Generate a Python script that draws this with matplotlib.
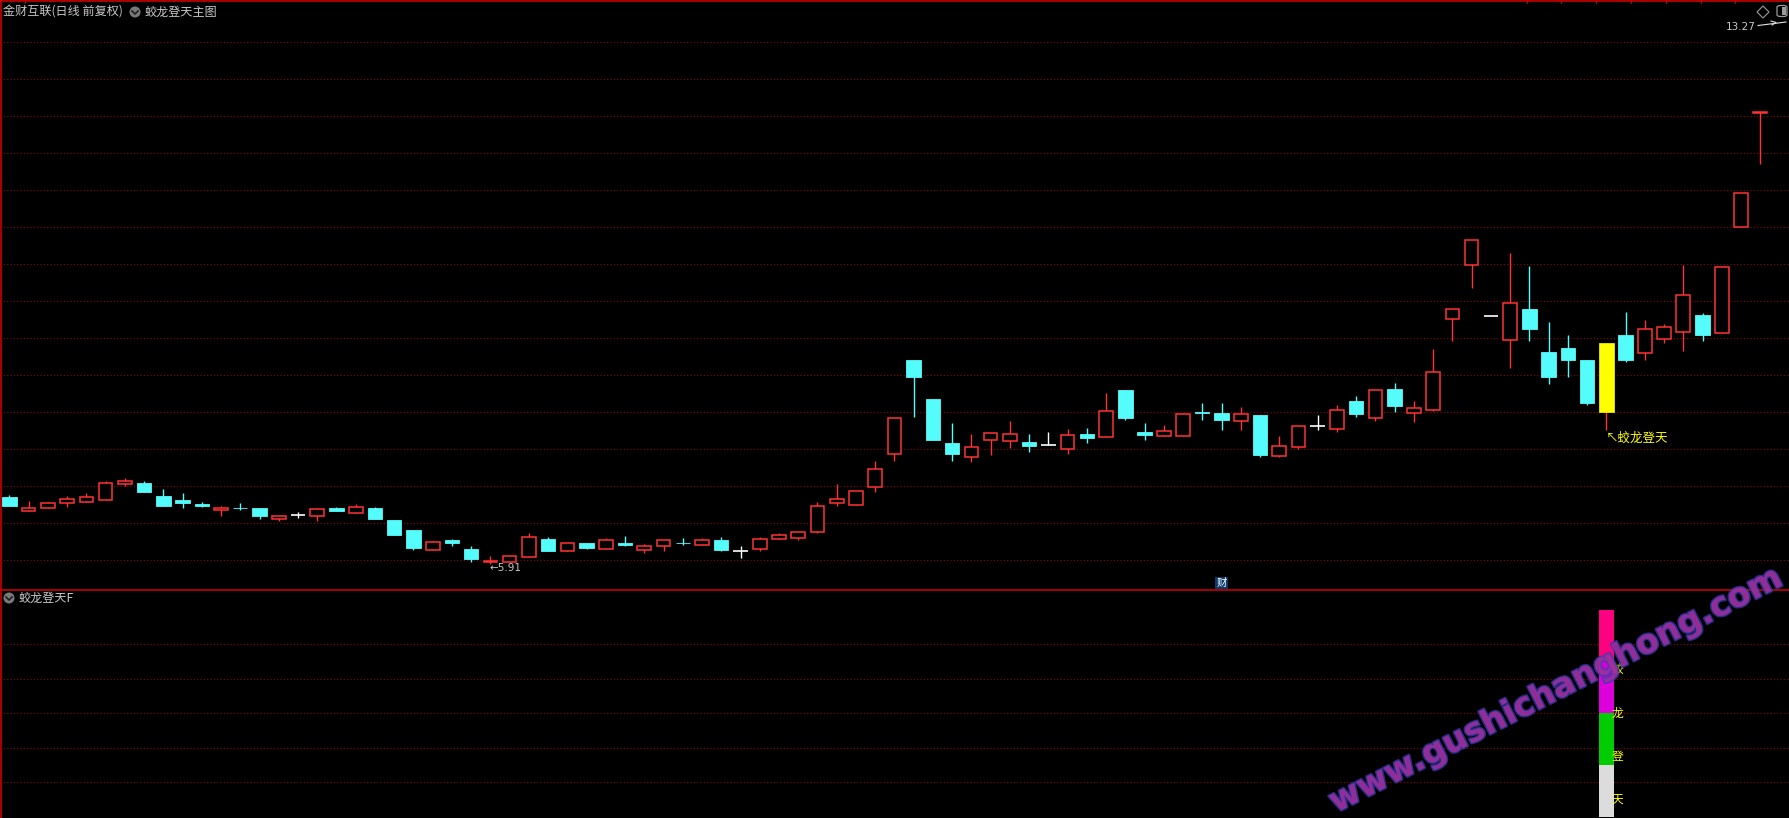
import matplotlib
matplotlib.use('Agg')
import matplotlib.pyplot as plt
import matplotlib.patches as mpatches
import matplotlib.patheffects as pe
from matplotlib.lines import Line2D
import numpy as np

plt.rcParams['font.family'] = ['Noto Sans CJK SC', 'DejaVu Sans']

# 金财互联 日线 前复权, 92 bars
opens = [7.01, 6.77, 6.82, 6.90, 6.93, 6.95, 7.22, 7.23, 7.02, 6.96,
         6.89, 6.80, 6.83, 6.83, 6.64, 6.72, 6.69, 6.83, 6.75, 6.83,
         6.63, 6.47, 6.15, 6.31, 6.16, 5.94, 5.94, 6.03, 6.32, 6.13,
         6.26, 6.16, 6.26, 6.15, 6.20, 6.26, 6.23, 6.31, 6.13, 6.16,
         6.33, 6.34, 6.44, 6.90, 6.88, 7.17, 7.71, 9.24, 8.60, 7.89,
         7.66, 7.94, 7.91, 7.90, 7.86, 7.78, 8.03, 7.98, 8.75, 8.06,
         8.00, 8.00, 8.39, 8.37, 8.25, 8.34, 7.68, 7.82, 8.16, 8.11,
         8.57, 8.30, 8.76, 8.37, 8.43, 9.91, 10.78, 9.95, 9.57, 10.07,
         9.37, 9.44, 9.24, 8.39, 9.64, 9.35, 9.58, 9.70, 9.97, 9.68,
         11.40, 13.26]
highs = [7.04, 6.94, 6.92, 7.02, 7.07, 7.27, 7.32, 7.27, 7.14, 7.07,
         6.92, 6.86, 6.91, 6.83, 6.69, 6.76, 6.83, 6.84, 6.89, 6.84,
         6.63, 6.47, 6.29, 6.32, 6.21, 6.05, 6.06, 6.42, 6.35, 6.25,
         6.26, 6.34, 6.37, 6.24, 6.30, 6.34, 6.34, 6.35, 6.21, 6.35,
         6.42, 6.43, 6.92, 7.22, 7.10, 7.59, 8.29, 9.24, 8.60, 8.21,
         8.03, 8.04, 8.24, 8.03, 8.06, 8.11, 8.13, 8.70, 8.75, 8.21,
         8.18, 8.37, 8.54, 8.54, 8.47, 8.34, 8.00, 8.17, 8.34, 8.50,
         8.65, 8.74, 8.86, 8.57, 9.42, 10.06, 11.19, 9.95, 10.98, 10.77,
         9.86, 9.64, 9.24, 9.51, 10.02, 9.89, 9.82, 10.79, 10.00, 10.75,
         11.95, 13.27]
lows = [6.86, 6.77, 6.82, 6.85, 6.93, 6.95, 7.19, 7.09, 6.86, 6.82,
        6.85, 6.69, 6.80, 6.64, 6.61, 6.66, 6.62, 6.77, 6.75, 6.64,
        6.39, 6.15, 6.15, 6.21, 5.95, 5.91, 5.94, 6.03, 6.13, 6.13,
        6.16, 6.16, 6.21, 6.10, 6.13, 6.23, 6.23, 6.13, 6.02, 6.13,
        6.33, 6.31, 6.42, 6.86, 6.88, 7.09, 7.60, 8.31, 7.94, 7.60,
        7.58, 7.69, 7.81, 7.74, 7.86, 7.71, 7.89, 7.98, 8.26, 7.94,
        8.00, 8.00, 8.26, 8.09, 8.10, 7.66, 7.66, 7.79, 8.10, 8.07,
        8.31, 8.25, 8.39, 8.22, 8.40, 9.55, 10.41, 9.95, 9.11, 9.55,
        8.85, 8.96, 8.51, 8.09, 9.21, 9.24, 9.52, 9.39, 9.55, 9.68,
        11.40, 12.43]
closes = [6.86, 6.82, 6.91, 6.97, 7.01, 7.23, 7.27, 7.09, 6.86, 6.91,
          6.86, 6.82, 6.82, 6.69, 6.69, 6.72, 6.81, 6.77, 6.85, 6.64,
          6.39, 6.18, 6.27, 6.26, 6.00, 5.96, 6.04, 6.35, 6.13, 6.25,
          6.18, 6.30, 6.23, 6.20, 6.30, 6.25, 6.30, 6.14, 6.13, 6.33,
          6.38, 6.43, 6.86, 6.97, 7.10, 7.46, 8.29, 8.96, 7.94, 7.71,
          7.82, 8.04, 8.03, 7.84, 7.86, 8.01, 7.97, 8.40, 8.30, 8.02,
          8.08, 8.35, 8.38, 8.26, 8.35, 7.69, 7.83, 8.17, 8.16, 8.43,
          8.36, 8.74, 8.49, 8.45, 9.04, 10.06, 11.19, 9.95, 10.16, 9.74,
          8.96, 9.24, 8.54, 9.51, 9.24, 9.74, 9.77, 10.29, 9.65, 10.75,
          11.95, 13.27]

# 蛟龙登天 signal
signal_idx = 83
signal_seg = [1, 1, 1, 1]
signal_colors = ['#dcdcdc', '#00cc00', '#dd00dd', '#ff0080']
signal_words = ['天', '登', '龙', '蛟']
word_levels = [0.34, 1.17, 2.0, 2.85]
report_idx = 63   # 财 marker

RED = '#ff3232'
CYAN = '#54fcfc'
BORDER = '#c80000'
GRID = '#a00000'
W, H = 1789, 818

fig = plt.figure(figsize=(W / 100, H / 100), dpi=100, facecolor='black')

def fx(px):
    return px / W

def fy(py):
    return 1 - py / H

ax = fig.add_axes([0, fy(590), 1, (590 - 1) / H])
ax2 = fig.add_axes([0, 0, 1, fy(590)])
for a in (ax, ax2):
    a.set_facecolor('black')
    a.set_axis_off()
    a.set_xlim(-0.4886, 92.495)
ax.set_ylim(5.4915, 15.0822)
ax2.set_ylim(-0.025, 4.3875)

# dotted grid
for k in range(15):
    f = (590 - 42 - 37 * k) / 589
    ax.plot([0, 1], [f, f], transform=ax.transAxes, color=GRID, lw=0.75,
            ls=(0, (1, 2.2)), zorder=0)
for k in range(1, 6):
    ax2.axhline(k * 2 / 3, color=GRID, lw=0.75, ls=(0, (1, 2.2)), zorder=0)

# candles
x = np.arange(len(closes))
for i in x:
    o, h, l, c = opens[i], highs[i], lows[i], closes[i]
    if i == signal_idx:
        ax.vlines(i, l, h, color=RED, lw=1.0, zorder=2)
        ax.add_patch(mpatches.Rectangle((i - 0.38, min(o, c)), 0.76, abs(c - o),
                                        facecolor='#ffff00', edgecolor='#ffff00',
                                        lw=0.5, zorder=3))
    elif c > o:
        ax.vlines(i, l, h, color=RED, lw=1.0, zorder=2)
        ax.add_patch(mpatches.Rectangle((i - 0.355, o), 0.71, c - o,
                                        facecolor='black', edgecolor=RED,
                                        lw=1.1, zorder=3))
    elif c < o:
        ax.vlines(i, l, h, color=CYAN, lw=1.0, zorder=2)
        ax.add_patch(mpatches.Rectangle((i - 0.375, c), 0.75, o - c,
                                        facecolor=CYAN, edgecolor=CYAN,
                                        lw=0.6, zorder=3))
    else:
        ax.vlines(i, l, h, color='white', lw=1.0, zorder=2)
        ax.hlines(o, i - 0.38, i + 0.38, color='white', lw=1.2, zorder=3)

# low / high marks
imin = int(np.argmin(lows))
ax.annotate('←' + f'{lows[imin]:.2f}', xy=(imin, lows[imin]), xytext=(-1, -4),
            textcoords='offset pixels', ha='left', va='center',
            color='#c8c8c8', fontsize=7.5, family='DejaVu Sans')
imax = int(np.argmax(highs))
fig.text(fx(1756), fy(26.5), f'{highs[imax]:.2f}', ha='right', va='center',
         color='#c8c8c8', fontsize=7.5, family='DejaVu Sans')
fig.add_artist(Line2D([fx(1758), fx(1786)], [fy(25.5), fy(22)], color='#e0e0e0',
                      lw=0.8, transform=fig.transFigure))
fig.add_artist(Line2D([fx(1771), fx(1776), fx(1772)], [fy(21), fy(22.5), fy(25)],
                      color='#e0e0e0', lw=0.8, transform=fig.transFigure))

# signal label under the bar
ax.annotate('↖蛟龙登天', xy=(signal_idx, lows[signal_idx]), xytext=(0, -1),
            textcoords='offset pixels', ha='left', va='top',
            color='#ffff00', fontsize=9)

# 财 marker
ax.text(report_idx, 0.012, '财', transform=ax.get_xaxis_transform(),
        ha='center', va='center', color='white', fontsize=7.5,
        bbox=dict(facecolor='#0b3a6a', edgecolor='none', pad=0.8))

# sub chart: stacked sticks
bottom = 0
for seg, col in zip(signal_seg, signal_colors):
    ax2.bar(signal_idx, seg, bottom=bottom, width=0.78, color=col, zorder=2)
    bottom += seg
for word, lev in zip(signal_words, word_levels):
    ax2.text(signal_idx + 0.27, lev, word, ha='left', va='center',
             color='#ffff00', fontsize=8.5, zorder=4)

# frame lines
for line in [Line2D([0, 1], [fy(1), fy(1)]), Line2D([fx(1), fx(1)], [0, 1]),
             Line2D([0, 1], [fy(590), fy(590)])]:
    line.set_color(BORDER)
    line.set_linewidth(1.2)
    line.set_transform(fig.transFigure)
    fig.add_artist(line)
for tx in [25, 1527, 1561, 1596, 1631, 1666, 1701, 1735]:
    fig.add_artist(Line2D([fx(tx), fx(tx)], [fy(0), fy(3)], color=BORDER, lw=0.8,
                          transform=fig.transFigure))

# titles
TXT = '#c8c8c8'
fig.text(fx(3), fy(12), '金财互联(日线 前复权)', ha='left', va='center',
         color=TXT, fontsize=8.7)
fig.text(fx(145), fy(12), '蛟龙登天主图', ha='left', va='center',
         color=TXT, fontsize=8.7)
fig.text(fx(19), fy(598), '蛟龙登天F', ha='left', va='center',
         color=TXT, fontsize=8.7)
for cx, cy in [(135, 12), (9, 598)]:
    fig.add_artist(mpatches.Ellipse((fx(cx), fy(cy)), 11 / W, 11 / H,
                                    facecolor='#7a7a7a', edgecolor='none',
                                    transform=fig.transFigure))
    fig.add_artist(Line2D([fx(cx - 3), fx(cx), fx(cx + 3)],
                          [fy(cy - 1), fy(cy + 2), fy(cy - 1)],
                          color='#202020', lw=1.2, transform=fig.transFigure))

# top right icons
fig.add_artist(mpatches.Polygon([(fx(1763), fy(6)), (fx(1769), fy(12)),
                                 (fx(1763), fy(18)), (fx(1757), fy(12))],
                                closed=True, facecolor='none', edgecolor='#9a9a9a',
                                lw=0.8, transform=fig.transFigure))
fig.add_artist(mpatches.FancyBboxPatch((fx(1777), fy(16.5)), 10 / W, 11 / H,
                                       boxstyle='round,pad=0,rounding_size=0.002',
                                       facecolor='none', edgecolor='#9a9a9a',
                                       lw=0.9, transform=fig.transFigure))
fig.add_artist(mpatches.Rectangle((fx(1782), fy(15)), 3.5 / W, 8 / H,
                                  facecolor='#9a9a9a', edgecolor='none',
                                  transform=fig.transFigure))

# watermark
fig.text(fx(1556), fy(690), 'www.gushichanghong.com', rotation=27,
         rotation_mode='anchor', ha='center', va='center', fontsize=24,
         fontweight='bold', family='DejaVu Sans', color='#a0309e', alpha=0.75,
         path_effects=[pe.withStroke(linewidth=2.2, foreground='#3a3ab0')],
         zorder=10)

fig.savefig('out.png', dpi=100, facecolor='black')
